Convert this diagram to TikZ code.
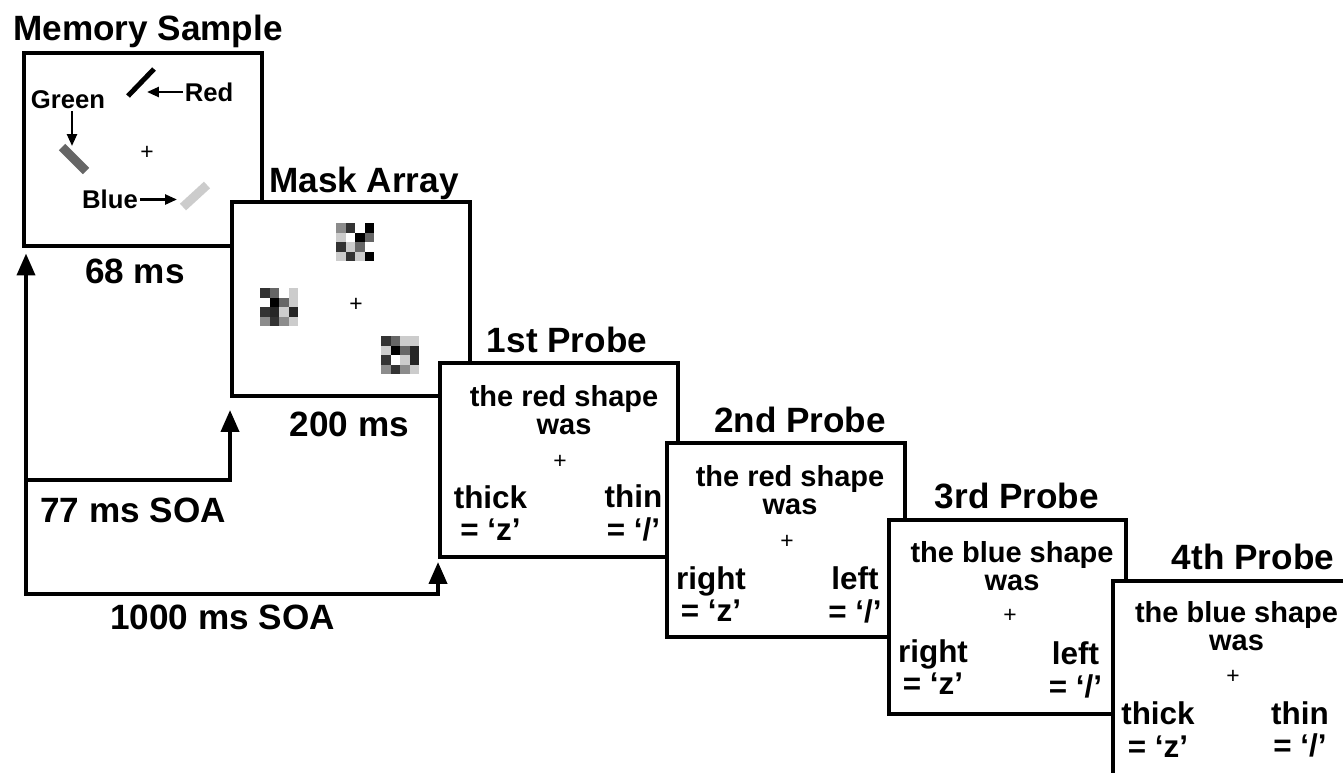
\documentclass[tikz,border=0pt]{standalone}
\usepackage{fontspec}
\setmainfont{Liberation Sans}
\usepackage{tikz}
\usetikzlibrary{arrows.meta,calc}
\tikzset{
  screen/.style  = {draw, line width=0.08cm, fill=white, minimum width=4.76cm,
                    minimum height=3.88cm, inner sep=0pt},
  title/.style   = {font=\fontsize{20}{24}\selectfont\bfseries, inner sep=0pt},
  dur/.style     = {font=\fontsize{20}{24}\selectfont\bfseries, inner sep=0pt},
  query/.style   = {font=\fontsize{16.5}{16}\selectfont\bfseries, align=center, inner sep=0pt},
  choice/.style  = {font=\fontsize{17.9}{18.5}\selectfont\bfseries, align=center, inner sep=0pt},
  colour/.style  = {font=\fontsize{14.6}{16}\selectfont\bfseries, inner sep=1pt},
  fix/.style     = {font=\fontsize{13}{13}\selectfont, inner sep=0pt},
  soa/.style     = {-{Triangle[length=0.44cm, width=0.36cm]}, line width=0.08cm,
                    line cap=rect, shorten >=0.1cm},
  pointer/.style = {-{Triangle[length=0.24cm, width=0.2cm]}, line width=0.05cm},
  bar/.style     = {line width=0.18cm},
}
\begin{document}
\begin{tikzpicture}[x=0.02cm, y=-0.02cm]
  \useasboundingbox (0,0) rectangle (1343,772);
  \clip (0,0) rectangle (1343,772);
  % memory sample screen
  \node[screen] (mem) at (143,149.5) {};
  \node[title] (memt) at (148,31) {Memory Sample};
  \draw[bar, line width=0.1cm] (128,96) -- (154,69);
  \draw[bar, black!60] (62,147) -- (86,171);
  \draw[bar, black!20] (183,207) -- (207,185);
  \node[colour] (rlab) at (209,92) {Red};
  \node[colour] (glab) at (68,100) {Green};
  \node[colour] (blab) at (110,199.5) {Blue};
  \coordinate (rtip) at (147,92);
  \coordinate (gtip) at (72,146);
  \coordinate (btip) at (177,199.5);
  \draw[pointer] (rlab) -- (rtip);
  \draw[pointer] (glab.south -| gtip) -- (gtip);
  \draw[pointer] (blab) -- (btip);
  \node[fix] (memf) at (147,153) {+};
  \node[dur] (memd) at (135,271.5) {68 ms};
  % mask array screen
  \node[screen] (mask) at (351,299) {};
  \node[title] (maskt) at (364,183) {Mask Array};
  \foreach \g [count=\k from 0] in {45,80,0,100, 20,0,100,60, 80,20,60,0, 20,80,20,100}
    \fill[black!\g] ({336+9.6*mod(\k,4)},{223+9.6*int(\k/4)}) rectangle ++(9.6,9.6);
  \foreach \g [count=\k from 0] in {80,60,0,20, 0,100,60,20, 80,85,20,85, 45,80,45,20}
    \fill[black!\g] ({260+9.6*mod(\k,4)},{288+9.6*int(\k/4)}) rectangle ++(9.6,9.6);
  \foreach \g [count=\k from 0] in {80,60,20,20, 20,100,60,85, 80,0,20,85, 45,80,45,20}
    \fill[black!\g] ({381+9.6*mod(\k,4)},{336+9.6*int(\k/4)}) rectangle ++(9.6,9.6);
  \node[fix] (maskf) at (356,305) {+};
  \node[dur] (maskd) at (349.5,424.5) {200 ms};
  % probe screens
  \node[screen] (p1) at (559,460) {};
  \node[title] (p1t) at (567,340) {1st Probe};
  \node[query] (p1q) at (564,410.5) {the red shape\\was};
  \node[fix] (p1f) at (560,462) {+};
  \node[choice] (p1a) at (490.5,513) {thick\\= ‘z’};
  \node[choice] (p1b) at (633.5,513) {thin\\= ‘/’};
  \node[screen] (p2) at (786,540) {};
  \node[title] (p2t) at (800,420) {2nd Probe};
  \node[query] (p2q) at (790,490) {the red shape\\was};
  \node[fix] (p2f) at (787,542) {+};
  \node[choice] (p2a) at (711,594) {right\\= ‘z’};
  \node[choice] (p2b) at (855,595) {left\\= ‘/’};
  \node[screen] (p3) at (1007.5,617) {};
  \node[title] (p3t) at (1017,496) {3rd Probe};
  \node[query] (p3q) at (1012,566) {the blue shape\\was};
  \node[fix] (p3f) at (1010,616) {+};
  \node[choice] (p3a) at (933,667) {right\\= ‘z’};
  \node[choice] (p3b) at (1075.5,670) {left\\= ‘/’};
  \node[screen] (p4) at (1232,678) {};
  \node[title] (p4t) at (1253,557) {4th Probe};
  \node[query] (p4q) at (1236.5,626.5) {the blue shape\\was};
  \node[fix] (p4f) at (1233,677) {+};
  \node[choice] (p4a) at (1158,729.5) {thick\\= ‘z’};
  \node[choice] (p4b) at (1300,729.5) {thin\\= ‘/’};
  % onset asynchronies
  \coordinate (base) at (26,594);
  \coordinate (knee) at (26,480);
  \draw[soa] (base) -- (base |- mem.south);
  \draw[soa, shorten >=0.24cm] (knee) -| (mask.south west);
  \draw[soa, shorten >=0.06cm] (base) -| (p1.south west);
  \node[dur] (soa1) at (133,510) {77 ms SOA};
  \node[dur] (soa2) at (222.5,617.5) {1000 ms SOA};
\end{tikzpicture}
\end{document}
